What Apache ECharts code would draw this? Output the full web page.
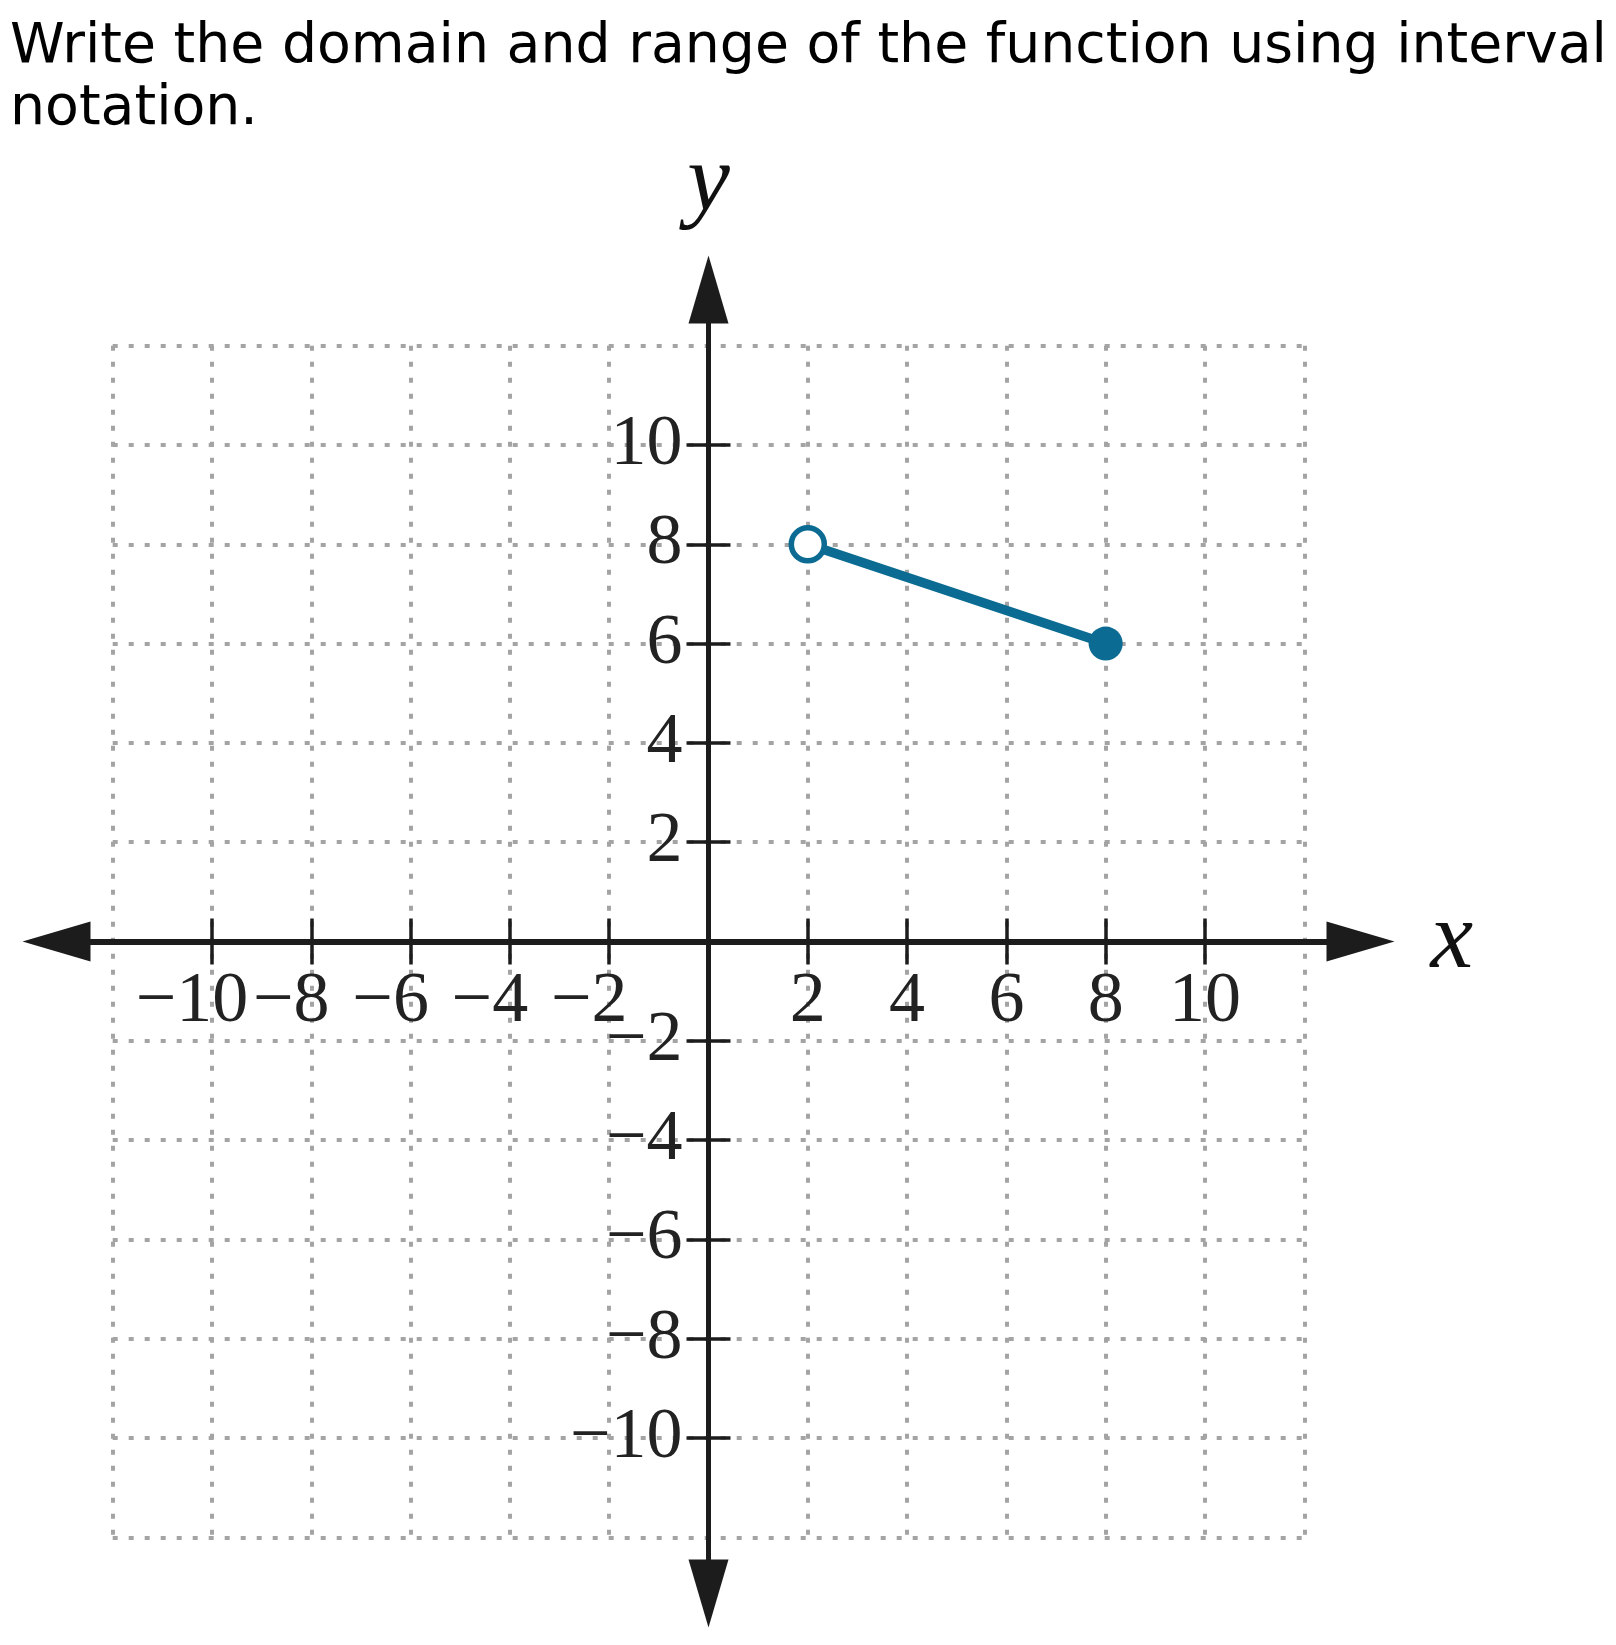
<!DOCTYPE html>
<html>
<head>
<meta charset="utf-8">
<script src="https://cdn.jsdelivr.net/npm/echarts@6/dist/echarts.min.js"></script>
<style>
html,body{margin:0;padding:0;background:#fff;}
#chart{width:1616px;height:1645px;}
</style>
</head>
<body>
<div id="chart"></div>
<script>
// ---- data ----
const titleText = 'Write the domain and range of the function using interval\nnotation.';
const xTickVals = [-10, -8, -6, -4, -2, 2, 4, 6, 8, 10];
const yTickVals = [-10, -8, -6, -4, -2, 2, 4, 6, 8, 10];
const segX = [2, 8];
const segY = [8, 6];
const openIdx = 0;   // (2, 8) excluded
const closedIdx = 1; // (8, 6) included

// ---- layout ----
const U = 49.65;          // px per unit
const CX = 708.5, CY = 941.5;
const GRID_R = 12;        // dotted grid extent
const ARROW_R = 652 / U;  // axis line extent (arrow centres)
const SERIF = 'Liberation Serif';
const TEAL = '#0b6b93';
const AXIS_C = '#1c1c1c';
const L0 = CX - GRID_R * U, T0 = CY - GRID_R * U, S0 = 2 * GRID_R * U;

const minusLabel = v => (v < 0 ? '\u2212' + (-v) : String(v));
// x labels split into groups so that neighbouring labels never sit on the same axis
const xNegA = xTickVals.filter(v => v < 0).filter((v, i) => i % 2 === 0);
const xNegB = xTickVals.filter(v => v < 0).filter((v, i) => i % 2 === 1);
const xPos = xTickVals.filter(v => v > 0);

const chart = echarts.init(document.getElementById('chart'), null, {renderer: 'canvas'});

const dotted = {show: true, lineStyle: {type: [5, 11], color: '#a4a4a4', width: 4}};
const hidden = {axisLine: {show: false}, axisTick: {show: false}, axisLabel: {show: false}, splitLine: {show: false}};
const tickStyle = {color: AXIS_C, width: 3.5};

function xLabelAxis(vals) {
  return {
    type: 'value', gridIndex: 2, position: 'bottom', min: -GRID_R, max: GRID_R, interval: 2,
    axisLine: {show: false, onZero: false}, axisTick: {show: false}, splitLine: {show: false},
    axisLabel: {
      show: true, customValues: vals, margin: 25, hideOverlap: false, interval: 0,
      showMinLabel: true, showMaxLabel: true,
      fontFamily: SERIF, fontSize: 72, color: '#222',
      formatter: v => (v < 0 ? '\u2212' + (-v) + '{p|}' : String(v)),
      rich: {p: {width: 40, fontSize: 72, fontFamily: SERIF}}
    }
  };
}

chart.setOption({
  animation: false,
  backgroundColor: '#fff',
  title: {
    text: titleText,
    left: 10, top: 17, padding: 0,
    textStyle: {fontFamily: 'DejaVu Sans', fontSize: 55.3, fontWeight: 'normal', color: '#000', lineHeight: 61.5}
  },
  grid: [
    // 0: dotted grid + ticks
    {left: L0, top: T0, width: S0, height: S0, containLabel: false, outerBoundsMode: 'none'},
    // 1: long axis lines with arrows
    {left: CX - ARROW_R * U, top: CY - ARROW_R * U, width: 2 * ARROW_R * U, height: 2 * ARROW_R * U, containLabel: false, outerBoundsMode: 'none'},
    // 2: x labels (bottom edge at y = 0)
    {left: L0, top: T0, width: S0, height: GRID_R * U, containLabel: false, outerBoundsMode: 'none'},
    // 3: y labels (left edge at x = 0)
    {left: CX, top: T0, width: GRID_R * U, height: S0, containLabel: false, outerBoundsMode: 'none'}
  ],
  xAxis: [
    { // 0: split lines
      type: 'value', gridIndex: 0, min: -GRID_R, max: GRID_R, interval: 2,
      axisLine: {show: false, onZero: false}, axisTick: {show: false}, axisLabel: {show: false},
      splitLine: dotted
    },
    { // 1: downward ticks on y = 0
      type: 'value', gridIndex: 0, position: 'bottom', min: -GRID_R, max: GRID_R, interval: 2,
      axisLine: {show: false, onZero: true, onZeroAxisIndex: 0},
      axisTick: {show: true, length: 23, customValues: xTickVals, lineStyle: tickStyle},
      axisLabel: {show: false}, splitLine: {show: false}
    },
    { // 2: upward ticks on y = 0
      type: 'value', gridIndex: 0, position: 'top', min: -GRID_R, max: GRID_R, interval: 2,
      axisLine: {show: false, onZero: true, onZeroAxisIndex: 0},
      axisTick: {show: true, length: 23, customValues: xTickVals, lineStyle: tickStyle},
      axisLabel: {show: false}, splitLine: {show: false}
    },
    { // 3: long axis line with arrows
      type: 'value', gridIndex: 1, min: -ARROW_R, max: ARROW_R,
      axisLine: {show: true, onZero: true, symbol: ['triangle', 'triangle'], symbolSize: [40, 68],
                 lineStyle: {color: AXIS_C, width: 6}},
      axisTick: {show: false}, axisLabel: {show: false}, splitLine: {show: false},
      name: 'x', nameLocation: 'end', nameGap: 70,
      nameTextStyle: {fontFamily: SERIF, fontStyle: 'italic', fontSize: 96, color: '#111',
                      verticalAlign: 'middle', align: 'left', padding: [0, 0, 12, 0]}
    },
    // 4,5,6: x labels
    xLabelAxis(xNegA),
    xLabelAxis(xNegB),
    xLabelAxis(xPos),
    { // 7: helper for grid 3
      type: 'value', gridIndex: 3, min: 0, max: GRID_R, ...hidden
    }
  ],
  yAxis: [
    { // 0: split lines
      type: 'value', gridIndex: 0, min: -GRID_R, max: GRID_R, interval: 2,
      axisLine: {show: false, onZero: false}, axisTick: {show: false}, axisLabel: {show: false},
      splitLine: dotted
    },
    { // 1: left ticks on x = 0
      type: 'value', gridIndex: 0, position: 'left', min: -GRID_R, max: GRID_R, interval: 2,
      axisLine: {show: false, onZero: true, onZeroAxisIndex: 0},
      axisTick: {show: true, length: 22, customValues: yTickVals, lineStyle: tickStyle},
      axisLabel: {show: false}, splitLine: {show: false}
    },
    { // 2: right ticks on x = 0
      type: 'value', gridIndex: 0, position: 'right', min: -GRID_R, max: GRID_R, interval: 2,
      axisLine: {show: false, onZero: true, onZeroAxisIndex: 0},
      axisTick: {show: true, length: 22, customValues: yTickVals, lineStyle: tickStyle},
      axisLabel: {show: false}, splitLine: {show: false}
    },
    { // 3: long axis line with arrows
      type: 'value', gridIndex: 1, min: -ARROW_R, max: ARROW_R,
      axisLine: {show: true, onZero: true, symbol: ['triangle', 'triangle'], symbolSize: [40, 68],
                 lineStyle: {color: AXIS_C, width: 5}},
      axisTick: {show: false}, axisLabel: {show: false}, splitLine: {show: false},
      name: 'y', nameLocation: 'end', nameGap: 57,
      nameTextStyle: {fontFamily: SERIF, fontStyle: 'italic', fontSize: 96, color: '#111',
                      align: 'center', verticalAlign: 'bottom'}
    },
    { // 4: helper for grid 2
      type: 'value', gridIndex: 2, min: 0, max: GRID_R, ...hidden
    },
    { // 5: y labels
      type: 'value', gridIndex: 3, position: 'left', min: -GRID_R, max: GRID_R, interval: 2,
      axisLine: {show: false, onZero: false}, axisTick: {show: false}, splitLine: {show: false},
      axisLabel: {
        show: true, customValues: yTickVals, margin: 26, hideOverlap: false, interval: 0,
        showMinLabel: true, showMaxLabel: true,
        fontFamily: SERIF, fontSize: 72, color: '#222',
        formatter: minusLabel
      }
    }
  ],
  series: [
    {
      type: 'line', xAxisIndex: 0, yAxisIndex: 0,
      data: segX.map((x, i) => [x, segY[i]]),
      showSymbol: false, symbol: 'none',
      lineStyle: {color: TEAL, width: 9.5}, z: 5
    },
    {
      type: 'scatter', xAxisIndex: 0, yAxisIndex: 0,
      data: [[segX[openIdx], segY[openIdx]]],
      symbol: 'circle', symbolSize: 33,
      itemStyle: {color: '#fff', borderColor: TEAL, borderWidth: 5.5, opacity: 1}, z: 6
    },
    {
      type: 'scatter', xAxisIndex: 0, yAxisIndex: 0,
      data: [[segX[closedIdx], segY[closedIdx]]],
      symbol: 'circle', symbolSize: 34,
      itemStyle: {color: TEAL, opacity: 1}, z: 6
    }
  ]
});
</script>
</body>
</html>
